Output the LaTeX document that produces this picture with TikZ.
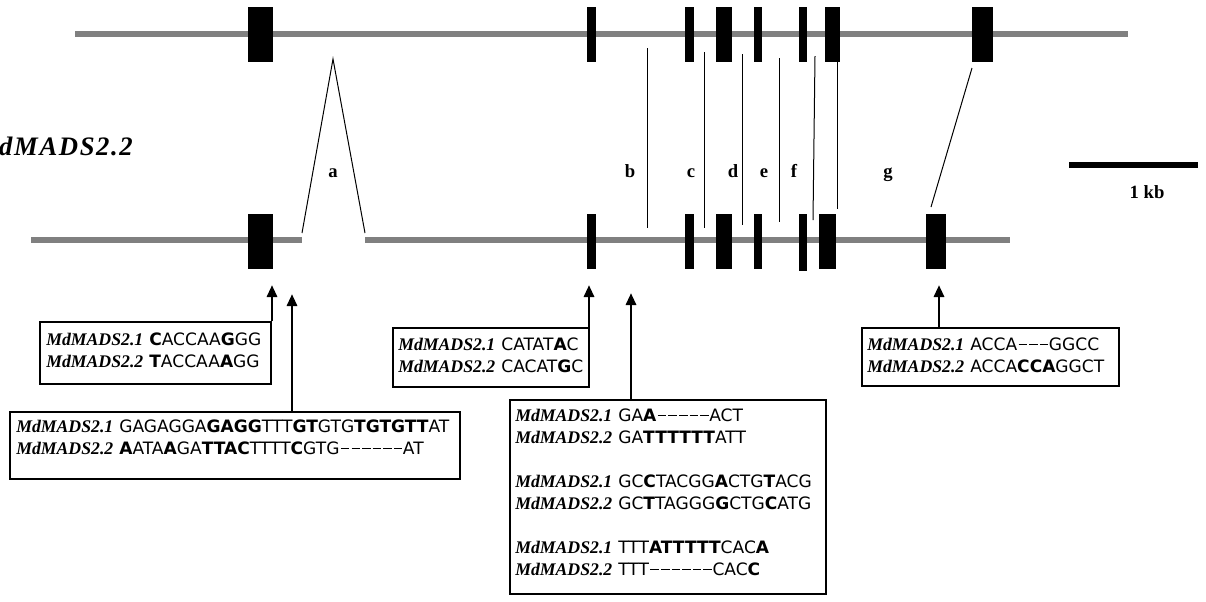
\documentclass[tikz,border=0pt]{standalone}
\usepackage{fontspec}
\setmainfont{Liberation Serif}
\newfontfamily\seqfamily{DejaVu Sans}
\usetikzlibrary{arrows.meta,fit}

\definecolor{intgray}{RGB}{128,128,128}

% gene name in the alignment boxes
\newcommand\genelab[1]{{\fontsize{13.3pt}{16pt}\selectfont\bfseries\itshape #1}}
% one alignment row: gene name, then the nucleotide string
\newcommand\alnrow[2]{\genelab{#1}\hspace{4.5pt}{\seqfamily\fontsize{12.8pt}{16pt}\selectfont #2}}
% alignment gap, one nucleotide wide
\newcommand\gp{\makebox[0.62em]{\kern0.05em\rule[0.3em]{0.5em}{0.07em}}}

\begin{document}
\begin{tikzpicture}[x=0.75pt,y=-0.75pt,
  intron/.style={line width=4.5pt, draw=intgray},
  exon/.style={fill=black},
  link/.style={line width=0.75pt},
  seqbox/.style={draw, line width=0.8pt, inner sep=0pt},
  seqrow/.style={anchor=base west, inner sep=0pt},
  pointer/.style={line width=2.2pt, -{Triangle[width=7.5pt,length=9pt]}},
  seglabel/.style={font=\fontsize{14pt}{16pt}\selectfont\bfseries, inner sep=0pt},
]
\useasboundingbox (0,0) rectangle (1206,601);
\clip (0,0) rectangle (1206,601);

% ---- gene name, running off the left edge
\node[anchor=base east, inner sep=0pt,
      font=\fontsize{20pt}{24pt}\selectfont\bfseries\itshape\addfontfeature{LetterSpace=6}]
  (gname) at (133,155) {MdMADS2.2};

% ---- upper gene: intron line and exons
\draw[intron] (75,34) -- (1128,34);
\foreach \l/\r in {248/273,587/596,685/694,716/732,754/762,799/807,825/840,972/993}
  \fill[exon] (\l,7) rectangle (\r,62);

% ---- lower gene: intron line (broken at the deletion) and exons
\draw[intron] (31,240) -- (302,240);
\draw[intron] (365,240) -- (1010,240);
\foreach \l/\r in {248/273,587/596,685/694,716/732,754/762,819/836,926/946}
  \fill[exon] (\l,214) rectangle (\r,269);
\fill[exon] (799,214) rectangle (807,271);

% ---- correspondence lines between the two genes
\draw[link] (302,233) -- (333,59) -- (365,233);
\draw[link] (647,48) -- (647,228);
\draw[link] (704,52) -- (704,228);
\draw[link] (742,54) -- (742,225);
\draw[link] (779,58) -- (779,222);
\draw[link] (815,56) -- (813,220);
\draw[link] (837,62) -- (837,209);
\draw[link] (972,68) -- (931,207);

% ---- region letters
\node[seglabel] (la) at (333,173) {a};
\node[seglabel] (lb) at (630,171) {b};
\node[seglabel] (lc) at (691,173) {c};
\node[seglabel] (ld) at (733,171) {d};
\node[seglabel] (le) at (764,173) {e};
\node[seglabel] (lf) at (794,171) {f};
\node[seglabel] (lg) at (888,175) {g};

% ---- scale bar
\draw[line width=3.8pt] (1069,165) -- (1198,165);
\node[inner sep=0pt, font=\fontsize{14pt}{16pt}\selectfont\bfseries] (kb) at (1147,192) {1 kb};

% ---- alignment boxes
\coordinate (b1a) at (40,322);  \coordinate (b1b) at (271,384);
\node[seqbox, fit=(b1a)(b1b)] (b1) {};
\node[seqrow] (b1r1) at (46,345.5) {\alnrow{MdMADS2.1}{\textbf{C}ACCAA\textbf{G}GG}};
\node[seqrow] (b1r2) at (46,367.5) {\alnrow{MdMADS2.2}{\textbf{T}ACCAA\textbf{A}GG}};

\coordinate (b2a) at (10,412);  \coordinate (b2b) at (460,479);
\node[seqbox, fit=(b2a)(b2b)] (b2) {};
\node[seqrow] (b2r1) at (16,432.5) {\alnrow{MdMADS2.1}{GAGAGGA\textbf{GAGG}TTT\textbf{GT}GTG\textbf{TGTGTT}AT}};
\node[seqrow] (b2r2) at (16,454.5) {\alnrow{MdMADS2.2}{\textbf{A}ATA\textbf{A}GA\textbf{TTAC}TTTT\textbf{C}GTG\gp\gp\gp\gp\gp\gp AT}};

\coordinate (b3a) at (393,328); \coordinate (b3b) at (589,387);
\node[seqbox, fit=(b3a)(b3b)] (b3) {};
\node[seqrow] (b3r1) at (398,350.5) {\alnrow{MdMADS2.1}{CATAT\textbf{A}C}};
\node[seqrow] (b3r2) at (398,372.5) {\alnrow{MdMADS2.2}{CACAT\textbf{G}C}};

\coordinate (b4a) at (510,400); \coordinate (b4b) at (826,594);
\node[seqbox, fit=(b4a)(b4b)] (b4) {};
\node[seqrow] (b4r1) at (515,421.5) {\alnrow{MdMADS2.1}{GA\textbf{A}\gp\gp\gp\gp\gp ACT}};
\node[seqrow] (b4r2) at (515,443.5) {\alnrow{MdMADS2.2}{GA\textbf{TTTTTT}ATT}};
\node[seqrow] (b4r3) at (515,487.5) {\alnrow{MdMADS2.1}{GC\textbf{C}TACGG\textbf{A}CTG\textbf{T}ACG}};
\node[seqrow] (b4r4) at (515,509.5) {\alnrow{MdMADS2.2}{GC\textbf{T}TAGGG\textbf{G}CTG\textbf{C}ATG}};
\node[seqrow] (b4r5) at (515,553.5) {\alnrow{MdMADS2.1}{TTT\textbf{ATTTTT}CAC\textbf{A}}};
\node[seqrow] (b4r6) at (515,575.5) {\alnrow{MdMADS2.2}{TTT\gp\gp\gp\gp\gp\gp CAC\textbf{C}}};

\coordinate (b5a) at (862,328); \coordinate (b5b) at (1119,386);
\node[seqbox, fit=(b5a)(b5b)] (b5) {};
\node[seqrow] (b5r1) at (867,350.5) {\alnrow{MdMADS2.1}{ACCA\gp\gp\gp GGCC}};
\node[seqrow] (b5r2) at (867,372.5) {\alnrow{MdMADS2.2}{ACCA\textbf{CCA}GGCT}};

% ---- pointers from the alignments to their positions on the gene
\coordinate (p1) at (272,285);
\coordinate (p2) at (292,294);
\coordinate (p3) at (589,285);
\coordinate (p4) at (631,293);
\coordinate (p5) at (939,285);
\draw[pointer] (p1 |- b1.north) -- (p1);
\draw[pointer] (p2 |- b2.north) -- (p2);
\draw[pointer] (p3 |- b3.north) -- (p3);
\draw[pointer] (p4 |- b4.north) -- (p4);
\draw[pointer] (p5 |- b5.north) -- (p5);
\end{tikzpicture}
\end{document}
